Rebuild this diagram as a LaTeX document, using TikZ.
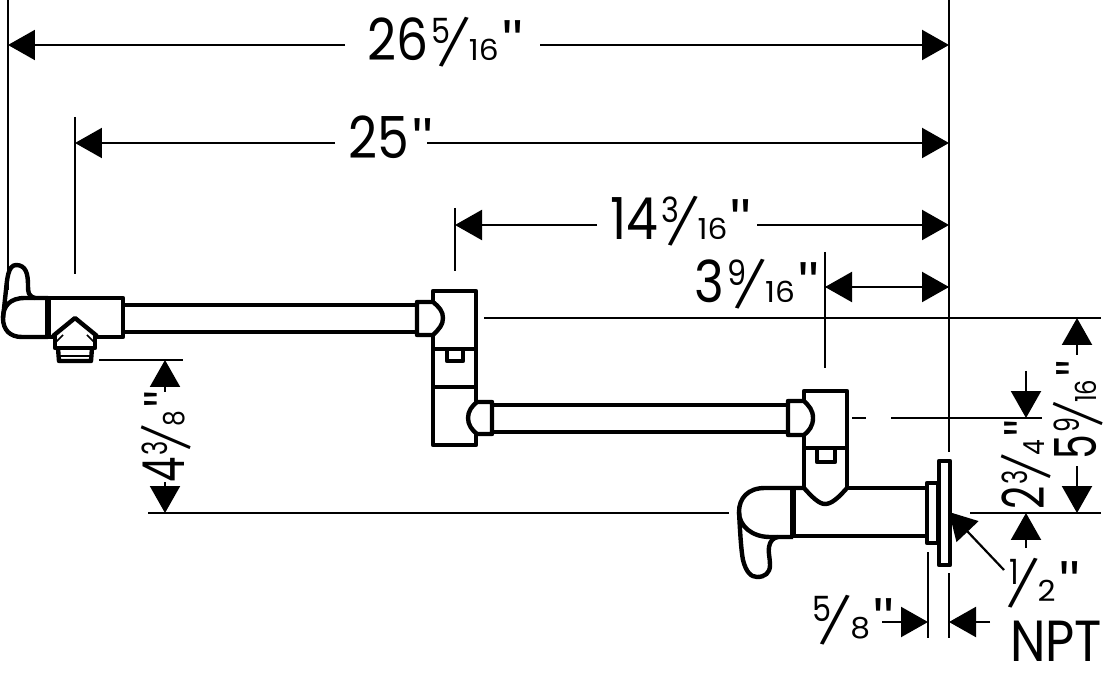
\documentclass[tikz,border=0pt]{standalone}
\usepackage{fontspec}
\setmainfont{Poppins}[FakeStretch=0.87]
\newfontfamily\quotefont{Liberation Sans}
\usetikzlibrary{arrows.meta}
\newcommand{\dimfrac}[2]{\kern.05em\raisebox{.29em}{\scalebox{.6}{#1}}\kern-.13em\makebox[.40em][c]{\scalebox{.84}{\rotatebox[origin=c]{-16}{/}}}\kern.05em\scalebox{.62}[.5]{#2}}
\newcommand{\inchmark}{{\quotefont\kern.06em"}}
\tikzset{
    dimline/.style={
        draw=black,
        line width=1.25pt,
    },
    dimarrow/.style={
        dimline,
        -{Stealth[inset=0pt,length=5.4mm,width=6mm]},
    },
    dimtext/.style={
        inner sep=0pt,
        font=\fontsize{33}{38}\selectfont,
    },
    part/.style={
        draw=black,
        line width=2.5pt,
        line join=round,
    },
    thinpart/.style={
        draw=black,
        line width=1pt,
    },
}
\begin{document}
\begin{tikzpicture}[x=0.02cm,y=-0.02cm]
    \useasboundingbox (0,0) rectangle (1109,675);
    % extension lines
    \coordinate (X1a) at (8,0);      \coordinate (X1b) at (8,290);
    \coordinate (X2a) at (75,117);   \coordinate (X2b) at (75,274);
    \coordinate (X3a) at (455,208);  \coordinate (X3b) at (455,271);
    \coordinate (X4a) at (825,252);  \coordinate (X4b) at (825,368);
    \coordinate (X5a) at (949,0);    \coordinate (X5b) at (949,452);
    \coordinate (X6a) at (949,573);  \coordinate (X6b) at (949,638);
    \coordinate (X7a) at (928,552);  \coordinate (X7b) at (928,638);
    \coordinate (H1a) at (484,318);  \coordinate (H1b) at (1101,318);
    \coordinate (H2a) at (99,360);   \coordinate (H2b) at (183,360);
    \coordinate (H3a) at (852,418);  \coordinate (H3b) at (866,418);
    \coordinate (H4a) at (891,418);  \coordinate (H4b) at (1042,418);
    \coordinate (H5a) at (148,513);  \coordinate (H5b) at (729,513);
    \coordinate (H6a) at (970,513);  \coordinate (H6b) at (1101,513);
    \coordinate (H7a) at (936,513);  \coordinate (H7b) at (941,513);
    \foreach \a/\b in {X1a/X1b,X2a/X2b,X3a/X3b,X4a/X4b,X5a/X5b,X6a/X6b,X7a/X7b,
                       H1a/H1b,H2a/H2b,H3a/H3b,H4a/H4b,H5a/H5b,H6a/H6b,H7a/H7b}
        \draw[dimline] (\a) -- (\b);

    % labels
    \node[dimtext] (L26) at (445,42) {26\dimfrac{5}{16}\inchmark};
    \node[dimtext] (L25) at (391,137) {25\inchmark};
    \node[dimtext] (L14) at (681,221) {14\dimfrac{3}{16}\inchmark};
    \node[dimtext] (L3) at (757,284) {3\dimfrac{9}{16}\inchmark};
    \node[dimtext,rotate=90] (L4) at (166,437) {\scalebox{.8}[1]{4\dimfrac{3}{8}\inchmark}};
    \node[dimtext,rotate=90] (L5) at (1078,410) {\scalebox{.78}[1]{5\dimfrac{9}{16}\inchmark}};
    \node[dimtext,rotate=90] (L2) at (1026,465) {\scalebox{.8}[1]{2\dimfrac{3}{4}\inchmark}};
    \node[dimtext] (L58) at (852,620) {\dimfrac{5}{8}\inchmark};
    \node[dimtext] (L12) at (1043,583) {\dimfrac{1}{2}\inchmark};
    \node[dimtext] (LN) at (1056,641) {NPT};

    % dimension arrows
    \coordinate (A1a) at (345,45);   \coordinate (A1b) at (8,45);
    \coordinate (A1c) at (540,45);   \coordinate (A1d) at (949,45);
    \coordinate (A2a) at (335,143);  \coordinate (A2b) at (75,143);
    \coordinate (A2c) at (427,143);  \coordinate (A2d) at (949,143);
    \coordinate (A3a) at (597,225);  \coordinate (A3b) at (455,225);
    \coordinate (A3c) at (757,225);  \coordinate (A3d) at (949,225);
    \coordinate (A4a) at (949,287);  \coordinate (A4b) at (825,287);
    \coordinate (A4c) at (825,287);  \coordinate (A4d) at (949,287);
    \coordinate (B1a) at (165,392);  \coordinate (B1b) at (165,360);
    \coordinate (B1c) at (165,482);  \coordinate (B1d) at (165,513);
    \coordinate (B2a) at (1077,355); \coordinate (B2b) at (1077,318);
    \coordinate (B2c) at (1077,466); \coordinate (B2d) at (1077,513);
    \coordinate (B3a) at (1026,371); \coordinate (B3b) at (1026,418);
    \coordinate (B3c) at (1026,548); \coordinate (B3d) at (1026,513);
    \coordinate (C1a) at (882,622);  \coordinate (C1b) at (928,622);
    \coordinate (C2a) at (990,622);  \coordinate (C2b) at (949,622);
    \coordinate (C3a) at (1004,570); \coordinate (C3b) at (949,512);
    \foreach \a/\b in {A1a/A1b,A1c/A1d,A2a/A2b,A2c/A2d,A3a/A3b,A3c/A3d,A4a/A4b,A4c/A4d,
                       B1a/B1b,B1c/B1d,B2a/B2b,B2c/B2d,B3a/B3b,B3c/B3d,
                       C1a/C1b,C2a/C2b,C3a/C3b}
        \draw[dimarrow] (\a) -- (\b);

    % spout end with swivel handle
    \draw[part] (35,298) .. controls (28,296) and (28,292) .. (28,285)
        .. controls (28,274) and (26,265) .. (16,265)
        .. controls (8,265) and (7,280) .. (6,290) -- (3,318);
    \draw[part] (48,298) -- (25,298) .. controls (10,298) and (3,306) .. (3,318)
        .. controls (3,330) and (10,337) .. (22,337) -- (48,337);
    \draw[part,line width=3.4pt] (48,298) -- (48,337);
    \draw[part] (53,337) -- (48,337) -- (48,298) -- (123,298) -- (123,337) -- (97,337);
    \draw[part] (123,305) -- (418,305);
    \draw[part] (123,332) -- (418,332);
    \draw[part] (53,336) -- (75,318) -- (97,336);
    \draw[part] (55,336) -- (55,348) -- (95,348) -- (95,336);
    \draw[part] (58,348) -- (59,361) -- (91,361) -- (92,348);
    \draw[thinpart] (59,356) -- (91,356);
    \draw[thinpart] (56,342) -- (63,335);
    \draw[thinpart] (94,342) -- (87,335);

    % middle joint
    \draw[part] (433,302) -- (433,291) -- (476,291) -- (476,402);
    \draw[part] (476,434) -- (476,445) -- (433,445) -- (433,335);
    \draw[part] (433,349) -- (476,349);
    \draw[part] (433,387) -- (476,387);
    \draw[part] (447,349) -- (447,361) -- (463,361) -- (463,349);
    \draw[part] (433,302) -- (417,302) -- (417,335) -- (433,335)
        .. controls (439,329) and (443,325) .. (443,318)
        .. controls (443,311) and (439,307) .. (433,302);
    \draw[part] (477,402) -- (492,402) -- (492,434) -- (477,434)
        .. controls (472,430) and (468,425) .. (468,418)
        .. controls (468,411) and (472,406) .. (477,402);
    \draw[part] (492,405) -- (788,405);
    \draw[part] (492,432) -- (788,432);

    % wall joint
    \draw[part] (804,401) -- (804,391) -- (847,391) -- (847,488);
    \draw[part] (804,435) -- (804,488);
    \draw[part] (804,448) -- (847,448);
    \draw[part] (817,448) -- (817,462) -- (835,462) -- (835,448);
    \draw[part] (804,488) .. controls (812,497) and (819,504) .. (825,504)
        .. controls (832,504) and (839,497) .. (847,488);
    \draw[part] (804,401) -- (788,401) -- (788,435) -- (804,435)
        .. controls (809,431) and (813,426) .. (813,418)
        .. controls (813,410) and (809,406) .. (804,401);

    % wall body and flange
    \draw[part] (847,488) -- (927,488);
    \draw[part] (793,536) -- (927,536);
    \draw[part] (804,488) -- (765,488) .. controls (748,488) and (739,498) .. (739,512)
        .. controls (739,526) and (752,537) .. (770,537) -- (793,537);
    \draw[part,line width=3.4pt] (793,488) -- (793,537);
    \draw[part] (739,512) .. controls (740,530) and (741,550) .. (743,560)
        .. controls (746,572) and (751,577) .. (757,577)
        .. controls (765,577) and (770,573) .. (770,565)
        .. controls (770,558) and (768,552) .. (769,547)
        .. controls (770,541) and (773,538) .. (778,537);
    \draw[part] (927,483) rectangle (938,543);
    \draw[part] (939,461) rectangle (950,565);
\end{tikzpicture}
\end{document}
